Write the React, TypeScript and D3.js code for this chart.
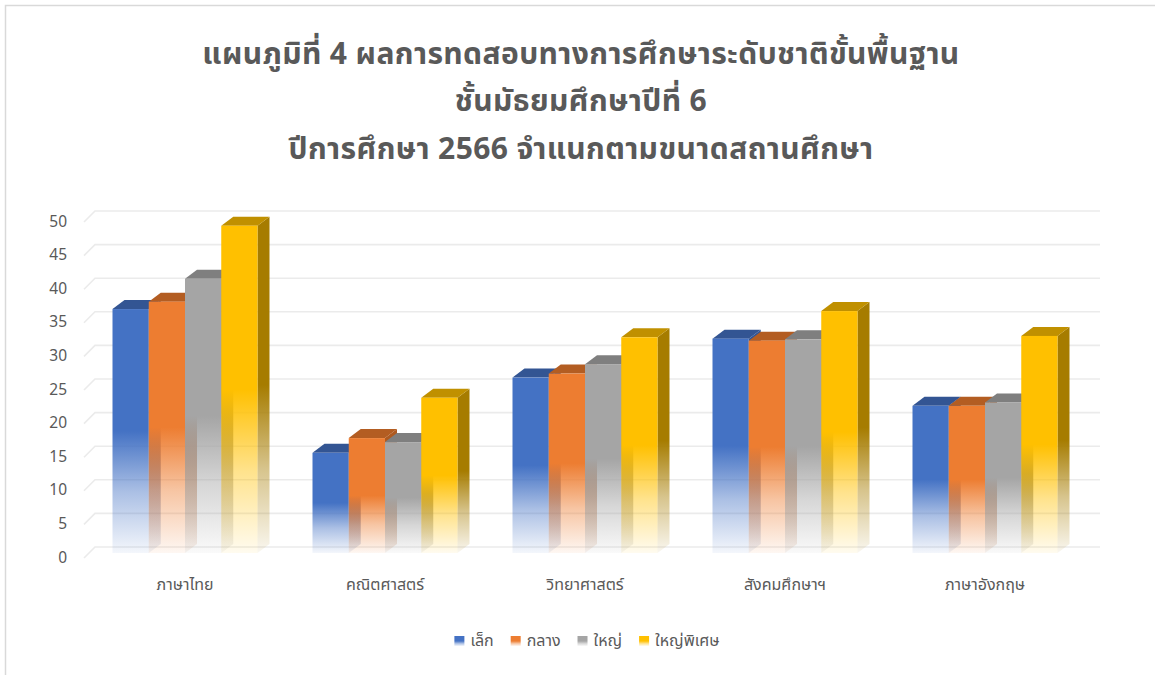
import React, { useEffect, useRef } from "react";
import * as d3 from "d3";

const titleLines = [
  "แผนภูมิที่ 4 ผลการทดสอบทางการศึกษาระดับชาติขั้นพื้นฐาน",
  "ชั้นมัธยมศึกษาปีที่ 6",
  "ปีการศึกษา 2566 จำแนกตามขนาดสถานศึกษา",
];
const categories = ["ภาษาไทย", "คณิตศาสตร์", "วิทยาศาสตร์", "สังคมศึกษาฯ", "ภาษาอังกฤษ"];
const seriesNames = ["เล็ก", "กลาง", "ใหญ่", "ใหญ่พิเศษ"];
const small = [36.3, 14.9, 26.1, 31.9, 21.9];
const medium = [37.4, 17.1, 26.7, 31.6, 21.9];
const large = [40.8, 16.5, 28.1, 31.8, 22.4];
const extraLarge = [48.7, 23.1, 32.1, 36.0, 32.3];
const yTicks = [0, 5, 10, 15, 20, 25, 30, 35, 40, 45, 50];

const seriesValues = [small, medium, large, extraLarge];
const frontColors = ["#4472c4", "#ed7d31", "#a5a5a5", "#ffc000"];
const topColors = ["#335593", "#b35d22", "#7f7f7f", "#c09000"];
const sideColors = ["#2f5597", "#ae5a21", "#7b7b7b", "#a67c00"];

const FONT = "Tahoma, 'Noto Sans Thai', 'Noto Sans', 'DejaVu Sans', sans-serif";
const TEXT = "#595959";

export default function App() {
  const ref = useRef<SVGSVGElement>(null);

  useEffect(() => {
    const svg = d3.select(ref.current!);
    svg.selectAll("*").remove();

    const defs = svg.append("defs");
    const mkGrad = (id: string, color: string) => {
      const g = defs.append("linearGradient").attr("id", id)
        .attr("x1", 0).attr("y1", 0).attr("x2", 0).attr("y2", 1);
      g.append("stop").attr("offset", 0).attr("stop-color", color).attr("stop-opacity", 1);
      g.append("stop").attr("offset", 0.5).attr("stop-color", color).attr("stop-opacity", 1);
      g.append("stop").attr("offset", 0.75).attr("stop-color", color).attr("stop-opacity", 0.45);
      g.append("stop").attr("offset", 1).attr("stop-color", color).attr("stop-opacity", 0.06);
    };
    frontColors.forEach((c, i) => mkGrad(`front${i}`, c));
    sideColors.forEach((c, i) => mkGrad(`side${i}`, c));

    // background + border
    svg.append("rect").attr("x", 0).attr("y", 0).attr("width", 1155).attr("height", 675).attr("fill", "#fff");
    svg.append("path").attr("d", "M5.5,675 L5.5,5.5 L1155,5.5")
      .attr("fill", "none").attr("stroke", "#d9d9d9").attr("stroke-width", 1.5);

    // title
    const titleY = [55, 102, 150];
    titleLines.forEach((t, i) => {
      svg.append("text").attr("x", 581).attr("y", titleY[i])
        .attr("text-anchor", "middle").attr("dominant-baseline", "central")
        .attr("font-family", FONT).attr("font-weight", "bold").attr("font-size", 30)
        .attr("letter-spacing", 0.4)
        .attr("fill", TEXT).text(t);
    });

    const x = d3.scaleBand<string>().domain(categories).range([85, 1085])
      .paddingInner(0.275).paddingOuter(0.1375);
    const inner = d3.scaleBand<string>().domain(seriesNames).range([0, x.bandwidth()]);
    const yBack = d3.scaleLinear().domain([0, 50]).range([547, 211]);
    const yFront = d3.scaleLinear().domain([0, 50]).range([553, 217]);
    const slantX = 11, slantY = 11;
    const dx = 12, dy = 9;

    // gridlines
    const grid = svg.append("g");
    yTicks.forEach((v) => {
      const yy = yBack(v);
      grid.append("path")
        .attr("d", `M${95 - slantX},${yy + slantY} L95,${yy} L1100,${yy}`)
        .attr("fill", "none").attr("stroke", "#ebebeb").attr("stroke-width", 1.6);
      svg.append("text").attr("x", 67).attr("y", yy + slantY)
        .attr("text-anchor", "end").attr("dominant-baseline", "central")
        .attr("font-family", FONT).attr("font-size", 15.5).attr("fill", TEXT).text(String(v));
    });

    // bars
    const bars = svg.append("g");
    categories.forEach((c, ci) => {
      seriesNames.forEach((s, si) => {
        const v = seriesValues[si][ci];
        const x0 = (x(c) as number) + (inner(s) as number);
        const w = inner.bandwidth();
        const top = yFront(v);
        const bottom = yFront(0);
        bars.append("polygon")
          .attr("points", [[x0 + w, top], [x0 + w + dx, top - dy], [x0 + w + dx, bottom - dy], [x0 + w, bottom]].map((p) => p.join(",")).join(" "))
          .attr("fill", `url(#side${si})`);
        bars.append("polygon")
          .attr("points", [[x0, top], [x0 + dx, top - dy], [x0 + w + dx, top - dy], [x0 + w, top]].map((p) => p.join(",")).join(" "))
          .attr("fill", topColors[si]);
        bars.append("rect").attr("x", x0).attr("y", top).attr("width", w).attr("height", bottom - top)
          .attr("fill", `url(#front${si})`);
      });
      svg.append("text").attr("x", (x(c) as number) + x.bandwidth() / 2).attr("y", 585)
        .attr("text-anchor", "middle").attr("dominant-baseline", "central")
        .attr("font-family", FONT).attr("font-size", 16).attr("fill", TEXT).text(c);
    });

    // legend
    const legend = svg.append("g");
    const items: { g: any; w: number }[] = [];
    seriesNames.forEach((s, i) => {
      const g = legend.append("g");
      g.append("rect").attr("x", 0).attr("y", -5).attr("width", 10).attr("height", 10).attr("fill", `url(#front${i})`);
      const t = g.append("text").attr("x", 16).attr("y", 0).attr("dominant-baseline", "central")
        .attr("font-family", FONT).attr("font-size", 16).attr("fill", TEXT).text(s);
      const tw = (t.node() as SVGTextElement).getComputedTextLength();
      items.push({ g, w: 16 + tw });
    });
    const gap = 17;
    const total = d3.sum(items, (d) => d.w) + gap * (items.length - 1);
    let cx = 587 - total / 2;
    items.forEach((it) => {
      it.g.attr("transform", `translate(${cx},641)`);
      cx += it.w + gap;
    });
  }, []);

  return (
    <svg ref={ref} width={1155} height={675}
      style={{ position: "absolute", left: 0, top: 0, display: "block" }} />
  );
}
